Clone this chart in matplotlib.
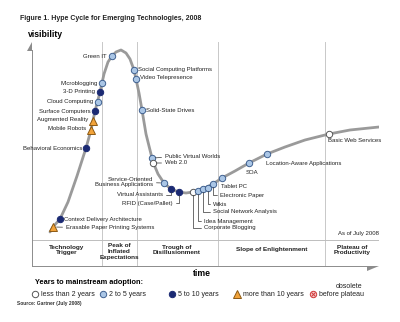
import matplotlib
matplotlib.use('Agg')
import matplotlib.pyplot as plt

plt.rcParams['font.family'] = ['Liberation Sans', 'DejaVu Sans']

# hype curve (time, visibility)
curve_t = [18, 21, 28, 36, 45, 54, 59, 63, 68, 72, 76, 80, 84, 89, 94, 98, 102, 104, 107, 110,
           114, 118, 121, 126, 132, 139, 147, 154, 161, 171, 181, 190, 203, 217, 235, 253, 273,
           297, 318, 347]
curve_v = [34, 39, 47, 64, 90, 118, 136, 155, 174, 192, 204, 210, 214, 216, 213, 207, 196, 187,
           173, 156, 132, 116, 104, 92, 83, 77, 74, 73, 74, 77, 82, 88, 95, 103, 112, 119, 126,
           132, 136, 139]

techs = ['Erasable Paper Printing Systems', 'Context Delivery Architecture', 'Behavioral Economics',
         'Mobile Robots', 'Augmented Reality', 'Surface Computers', 'Cloud Computing',
         '3-D Printing', 'Microblogging', 'Green IT', 'Social Computing Platforms',
         'Video Telepresence', 'Solid-State Drives', 'Public Virtual Worlds', 'Web 2.0',
         'Service-Oriented\nBusiness Applications', 'Virtual Assistants', 'RFID (Case/Pallet)',
         'Corporate Blogging', 'Idea Management', 'Social Network Analysis', 'Wikis',
         'Electronic Paper', 'Tablet PC', 'SOA', 'Location-Aware Applications',
         'Basic Web Services']
tech_t = [21, 28, 54, 59, 61, 63, 66, 68, 70, 80, 102, 104, 110, 120, 121, 132, 139, 147,
          161, 166, 171, 176, 181, 190, 217, 235, 297]
tech_v = [39, 47, 118, 136, 145, 155, 164, 174, 183, 210, 196, 187, 156, 108, 103, 83, 77, 74,
          74, 75, 77, 78, 82, 88, 103, 112, 132]
years = ['>10', '5-10', '5-10', '>10', '>10', '5-10', '2-5', '5-10', '2-5', '2-5', '2-5',
         '2-5', '2-5', '2-5', '<2', '2-5', '5-10', '5-10', '<2', '2-5', '2-5', '2-5', '2-5',
         '2-5', '2-5', '2-5', '<2']

phases = ['Technology\nTrigger', 'Peak of\nInflated\nExpectations', 'Trough of\nDisillusionment',
          'Slope of Enlightenment', 'Plateau of\nProductivity']
phase_mid = [35, 87, 145, 240, 320]
phase_edges = [70, 105, 186, 293]

legend_keys = ['<2', '2-5', '5-10', '>10', 'obs']
legend_text = ['less than 2 years', '2 to 5 years', '5 to 10 years', 'more than 10 years',
               'before plateau']

styles = {
    '<2': dict(marker='o', mfc='white', mec='#555555', ms=4.6),
    '2-5': dict(marker='o', mfc='#aac6e6', mec='#3f6090', ms=4.6),
    '5-10': dict(marker='o', mfc='#1b2a73', mec='#1b2a73', ms=4.6),
    '>10': dict(marker='^', mfc='#f2a33a', mec='#8c5a14', ms=5.6),
    'obs': dict(marker='o', mfc='#f6c8c8', mec='#d03a3a', ms=4.6),
}

# label placement: offset in pixels from marker, alignment, leader type
lab = [(13, -1, 'left', 'line'), (4, -1, 'left', None), (-4, 0, 'right', None),
       (-5, 1, 'right', None), (-5, 1, 'right', None), (-4, 0, 'right', None),
       (-5, 1, 'right', None), (-5, 0, 'right', None), (-4, 0, 'right', None),
       (-5, 0, 'right', None), (4, 0, 'left', None), (4, 1, 'left', None),
       (4, 0, 'left', None), (13, 2, 'left', 'line'), (12, 0, 'left', 'line'),
       (-11, 1, 'right', 'line'), (-8, -6, 'right', 'elbow'), (-6, -11, 'right', 'elbow'),
       (11, -36, 'left', 'elbow'), (6, -30, 'left', 'elbow'), (10, -23, 'left', 'elbow'),
       (5, -16, 'left', 'elbow'), (7, -11, 'left', 'elbow'), (-1, -8, 'left', None),
       (3, -9, 'center', None), (-1, -9, 'left', None), (-1, -7, 'left', None)]

fig = plt.figure(figsize=(4, 3.22), dpi=100)
ax = fig.add_axes([32 / 400, 56 / 322, 347 / 400, 224 / 322])
ax.set_xlim(0, 347)
ax.set_ylim(0, 224)
ax.axis('off')

# frame, phases
for e in phase_edges:
    ax.axvline(e, color='#c8c8c8', lw=0.7, zorder=0)
ax.axhline(26, color='#bdbdbd', lw=0.7, zorder=0)
ax.plot([0, 0], [0, 216], color='#8c8c8c', lw=0.7, clip_on=False)
ax.plot([0, 337], [0, 0], color='#8c8c8c', lw=0.7, clip_on=False)
ax.fill([0, -5, 0], [224, 215, 215], color='#8c8c8c', clip_on=False, lw=0)
ax.fill([347, 335, 335], [0, 0, -5], color='#8c8c8c', clip_on=False, lw=0)
for name, m in zip(phases, phase_mid):
    ax.text(m, 16 if name.count('\n') < 2 else 14.5, name, ha='center', va='center',
            fontsize=4.6, fontweight='bold', color='#222222', linespacing=1.2)

ax.plot(curve_t, curve_v, color='#9a9a9a', lw=2.0, solid_capstyle='round',
        solid_joinstyle='round', zorder=2)

for name, t, v, y, (dx, dy, ha, lead) in zip(techs, tech_t, tech_v, years, lab):
    ax.plot(t, v, ls='none', mew=0.7, zorder=3, **styles[y])
    arrow = None
    if lead == 'line':
        arrow = dict(arrowstyle='-', color='#333333', lw=0.5, shrinkA=0.5, shrinkB=2.5)
    elif lead == 'elbow':
        arrow = dict(arrowstyle='-', color='#333333', lw=0.5, shrinkA=0.5, shrinkB=2.5,
                     connectionstyle='angle,angleA=0,angleB=90,rad=0')
    ax.annotate(name, (t, v), xytext=(dx, dy), textcoords='offset pixels', ha=ha,
                va='center', fontsize=4.3, color='#222222', linespacing=1.05,
                arrowprops=arrow, zorder=4)

# texts and legend outside the curve area, in pixel coordinates
ov = fig.add_axes([0, 0, 1, 1])
ov.set_xlim(0, 400)
ov.set_ylim(322, 0)
ov.axis('off')
ov.text(20, 18, 'Figure 1. Hype Cycle for Emerging Technologies, 2008', fontsize=5.0,
        fontweight='bold', va='center', color='#222222')
ov.text(28, 34, 'visibility', fontsize=6.2, fontweight='bold', va='center')
ov.text(202, 273, 'time', fontsize=6.2, fontweight='bold', va='center', ha='center')
ov.text(379, 233, 'As of July 2008', fontsize=4.3, ha='right', va='center', color='#222222')
ov.text(35, 283, 'Years to mainstream adoption:', fontsize=5.3, fontweight='bold', va='center')
ov.text(17, 303, 'Source: Gartner (July 2008)', fontsize=3.5, fontweight='bold', va='center',
        color='#333333')
leg_x = [35, 103, 172, 237, 313]
for k, txt, x in zip(legend_keys, legend_text, leg_x):
    ov.plot(x, 294, ls='none', mew=0.7, **styles[k])
    ov.text(x + 6, 294, txt, fontsize=5.0, va='center', color='#222222')
ov.plot(313, 294, marker='x', ms=2.6, mec='#d03a3a', mew=0.7)
ov.text(349, 286, 'obsolete', fontsize=5.0, va='center', ha='center', color='#222222')

fig.savefig('out.png', dpi=100)
